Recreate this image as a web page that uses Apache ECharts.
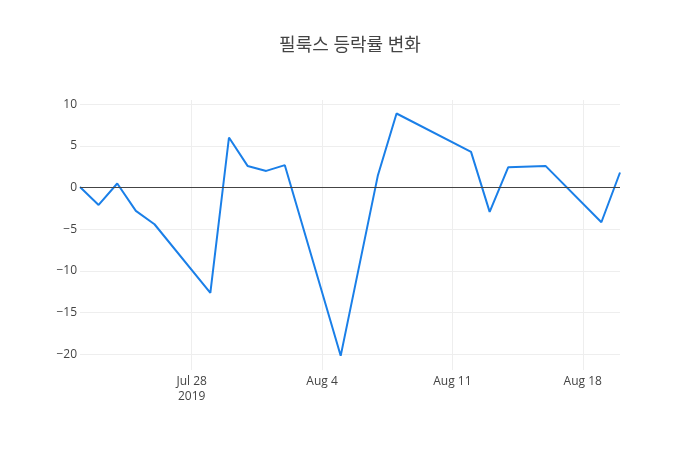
<!DOCTYPE html>
<html>
<head>
<meta charset="utf-8">
<script src="https://cdn.jsdelivr.net/npm/echarts@6/dist/echarts.min.js"></script>
<style>
  html, body { margin: 0; padding: 0; background: #fff; }
  #chart { width: 700px; height: 450px; }
</style>
</head>
<body>
<div id="chart"></div>
<script>
const titleText = "필룩스 등락률 변화";

// trading days (Aug 6, Aug 9 and Aug 15 have no value in the picture)
const dates = [
  "2019-07-22", "2019-07-23", "2019-07-24", "2019-07-25", "2019-07-26",
  "2019-07-29", "2019-07-30", "2019-07-31", "2019-08-01", "2019-08-02",
  "2019-08-05", "2019-08-07", "2019-08-08", "2019-08-12", "2019-08-13",
  "2019-08-14", "2019-08-16", "2019-08-19", "2019-08-20"
];
const changes = [
  0.07, -2.09, 0.48, -2.81, -4.41,
  -12.65, 6.0, 2.59, 1.99, 2.68,
  -20.2, 1.48, 8.88, 4.27, -2.93,
  2.44, 2.59, -4.17, 1.8
];

const xTicks = ["2019-07-28", "2019-08-04", "2019-08-11", "2019-08-18"];
const yTicks = [-20, -15, -10, -5, 0, 5, 10];

const months = ["Jan", "Feb", "Mar", "Apr", "May", "Jun", "Jul", "Aug", "Sep", "Oct", "Nov", "Dec"];
const toMs = (s) => Date.parse(s); // ISO date strings -> UTC ms
const firstTick = toMs(xTicks[0]);

const fontFamily = "'Open Sans', 'Noto Sans CJK KR', sans-serif";

const chart = echarts.init(document.getElementById("chart"));

chart.setOption({
  animation: false,
  title: {
    text: titleText,
    left: "center",
    top: 32,
    textStyle: { fontSize: 18, fontWeight: "normal", color: "#444", fontFamily: fontFamily }
  },
  grid: { left: 80, right: 80, top: 100, bottom: 80, containLabel: false },
  xAxis: {
    type: "value",
    min: toMs(dates[0]),
    max: toMs(dates[dates.length - 1]),
    axisLine: { show: false },
    axisTick: { show: false, customValues: xTicks.map(toMs) },
    splitLine: { show: true, lineStyle: { color: "#eee", width: 1 } },
    axisLabel: {
      customValues: xTicks.map(toMs),
      margin: 4,
      color: "#444",
      fontSize: 12,
      lineHeight: 15,
      fontFamily: fontFamily,
      formatter: (value) => {
        const d = new Date(value);
        let s = months[d.getUTCMonth()] + " " + d.getUTCDate();
        if (value === firstTick) s += "\n" + d.getUTCFullYear();
        return s;
      }
    }
  },
  yAxis: {
    type: "value",
    min: -21.9,
    max: 10.5,
    axisLine: { show: false },
    axisTick: { show: false, customValues: yTicks },
    splitLine: { show: true, lineStyle: { color: "#eee", width: 1 } },
    axisLabel: {
      customValues: yTicks,
      margin: 3,
      color: "#444",
      fontSize: 12,
      fontFamily: fontFamily,
      formatter: (v) => (v < 0 ? "\u2212" + Math.abs(v) : String(v))
    }
  },
  series: [
    {
      type: "line",
      data: dates.map((d, i) => [toMs(d), changes[i]]),
      symbol: "none",
      lineStyle: { color: "#1a7fe8", width: 2 },
      itemStyle: { color: "#1a7fe8" },
      markLine: {
        silent: true,
        symbol: "none",
        label: { show: false },
        lineStyle: { color: "#444", width: 1, type: "solid" },
        data: [{ yAxis: 0 }]
      },
      z: 3
    }
  ]
});
</script>
</body>
</html>
